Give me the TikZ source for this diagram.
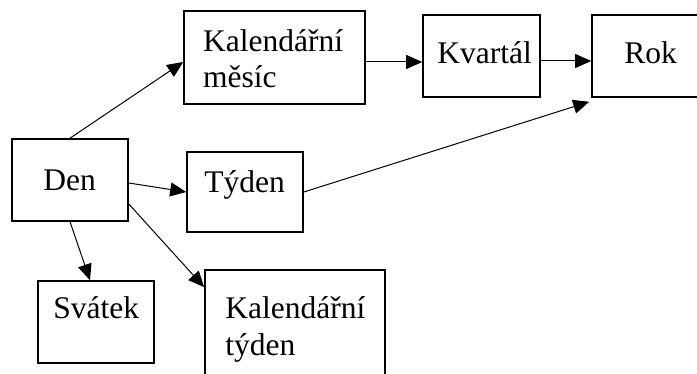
\documentclass[tikz,border=0pt]{standalone}
\usepackage{fontspec}
\setmainfont{Liberation Serif}
\usetikzlibrary{arrows.meta}

\begin{document}
\begin{tikzpicture}[x=0.5pt,y=-0.5pt,
    box/.style={draw,line width=0.8pt,inner sep=0pt},
    lbl/.style={anchor=base west,inner sep=0pt,align=left,
      font=\fontsize{15.75}{18.25}\selectfont},
    arr/.style={-{Triangle[length=8pt,width=7pt]},line width=0.5pt}]
  \clip (0,0) rectangle (697,374);

  % boxes
  \node[box,minimum width=58pt,minimum height=41pt] (den) at (70,180) {};
  \node[box,minimum width=90.5pt,minimum height=46.5pt] (mesic) at (274.5,57.5) {};
  \node[box,minimum width=58.5pt,minimum height=41pt] (kvartal) at (481.5,56) {};
  \node[box,minimum width=58.5pt,minimum height=41pt] (rok) at (650.5,56) {};
  \node[box,minimum width=58pt,minimum height=40pt] (tyden) at (245,192) {};
  \node[box,minimum width=58pt,minimum height=41pt] (svatek) at (96,322) {};
  \node[box,minimum width=90pt,minimum height=55pt] (kaltyden) at (295,325) {};

  % texts (two-line texts sit on the baseline of their last line)
  \node[lbl] (denL) at (43,191) {Den};
  \node[lbl] (mesicL) at (202.7,87.7) {Kalendářní\\měsíc};
  \node[lbl] (kvartalL) at (437,64) {Kvartál};
  \node[lbl] (rokL) at (624,64) {Rok};
  \node[lbl] (tydenL) at (204,192) {Týden};
  \node[lbl] (svatekL) at (53,319) {Svátek};
  \node[lbl] (kaltydenL) at (225,355) {Kalendářní\\týden};

  % arrows
  \draw[arr] (den.north) -- ([shift={(0,4.5)}]mesic.west);
  \draw[arr] ([shift={(0,3)}]den.east) -- (tyden.west);
  \draw[arr] (den.south) -- ([shift={(-6,0)}]svatek.north);
  \draw[arr] ([shift={(0,24)}]den.east) -- ([shift={(0,18)}]kaltyden.north west);
  \draw[arr] ([shift={(0,4.5)}]mesic.east) -- ([shift={(0,6)}]kvartal.west);
  \draw[arr] ([shift={(0,5)}]kvartal.east) -- ([shift={(0,5)}]rok.west);
  \draw[arr] (tyden.east) -- ([shift={(-2,4)}]rok.south west);
\end{tikzpicture}
\end{document}
